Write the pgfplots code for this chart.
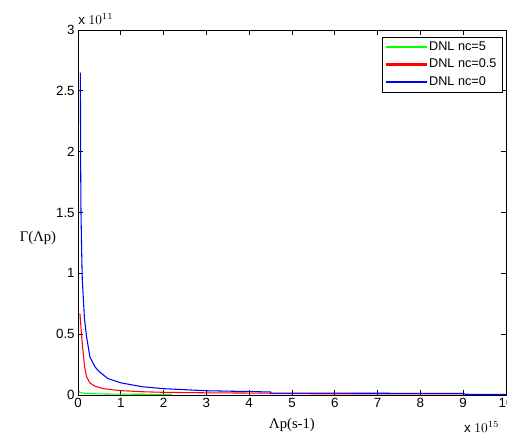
\documentclass[border=0pt]{standalone}
\usepackage{pgfplots}
\pgfplotsset{compat=1.18}
\usetikzlibrary{calc}
\usepackage{fontspec}
\setmainfont{Liberation Sans}
\newfontfamily\serif{Liberation Serif}

\begin{document}
\begin{tikzpicture}
\begin{axis}[
    name=ax,
    scale only axis,
    width=321pt, height=273.75pt,
    xmin=0, xmax=10, ymin=0, ymax=3,
    xtick={0,...,10},
    ytick={0,0.5,...,3},
    yticklabels={0,0.5,1,1.5,2,2.5,3},
    tick align=inside,
    major tick length=3.5pt,
    every tick/.style={black, line width=0.6pt},
    axis line style={line width=0.6pt},
    ticklabel style={font=\fontsize{10}{12}\selectfont},
    /pgf/number format/assume math mode=true,
    xticklabel style={yshift=1pt},
    yticklabel style={xshift=1pt},
    legend style={at={(1,1)}, anchor=north east, xshift=-2.5pt, yshift=-5pt,
        fill=white, draw=black, row sep=2pt,
        nodes={font=\fontsize{9.5}{11}\selectfont, fill=none, inner sep=1.5pt}},
    legend cell align=left,
    legend image code/.code={\fill[#1] (0pt,-0.5pt) rectangle (30pt,0.5pt);},
]
\addplot[green, line width=0.8pt] coordinates {
(0.02,0.028) (0.04,0.024) (0.06,0.02) (0.1,0.016) (0.2,0.013) (0.3,0.011)
(0.5,0.009) (1,0.007) (1.5,0.006) (2.2,0.005)
};
\addlegendentry{DNL nc=5}
\addplot[red, line width=0.8pt] coordinates {
(0.045,0.67) (0.06,0.6) (0.075,0.53) (0.086,0.48) (0.1,0.42) (0.124,0.34)
(0.15,0.24) (0.2,0.15) (0.28,0.098) (0.4,0.072) (0.6,0.052) (0.8,0.043)
(1,0.036) (1.5,0.027) (2,0.022) (3,0.018) (4.5,0.015) (4.5,0.011) (9,0.009)
};
\addlegendentry{DNL nc=0.5}
\addplot[blue, line width=0.8pt] coordinates {
(0.055,2.65) (0.058,2.38) (0.062,1.9) (0.07,1.5) (0.085,1.19) (0.1,0.95)
(0.124,0.8) (0.15,0.63) (0.2,0.48) (0.28,0.31) (0.4,0.23) (0.5,0.19)
(0.7,0.135) (1,0.1) (1.5,0.068) (2,0.052) (3,0.035) (4.5,0.025)
(4.5,0.016) (9,0.013) (9.05,0.006) (10,0.005)
};
\addlegendentry{DNL nc=0}
\end{axis}
% labels and scale factors
\node[anchor=south west, font=\fontsize{10}{12}\selectfont, inner sep=0pt]
    at ($(ax.north west)+(0pt,4pt)$) {x $10^{11}$};
\node[anchor=north east, font=\fontsize{10}{12}\selectfont, inner sep=0pt]
    at ($(ax.south east)+(-5pt,-20pt)$) {x $10^{15}$};
\node[font=\serif\fontsize{11}{13}\selectfont] at ($(ax.west)+(-30pt,-18.75pt)$) {Γ(Λp)};
\node[font=\serif\fontsize{11}{13}\selectfont, anchor=north] at ($(ax.south)+(0pt,-14pt)$) {Λp(s-1)};
\pgfresetboundingbox
\path[use as bounding box] ($(ax.south west)+(-58.5pt,-33.75pt)$) rectangle ++(380.25pt,330pt);
\end{tikzpicture}
\end{document}
